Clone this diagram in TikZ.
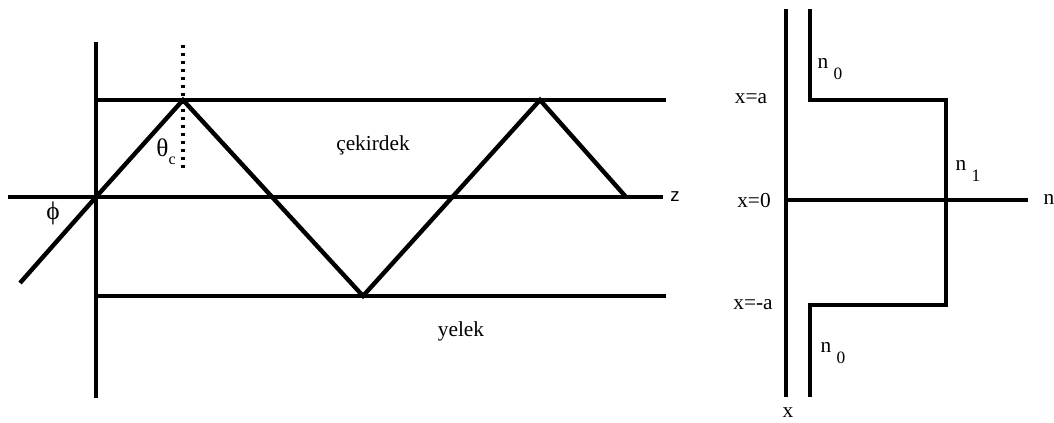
\documentclass[tikz,border=0pt]{standalone}
\usepackage{fontspec}
\setmainfont{Liberation Serif}
\newfontfamily\axisfont{Liberation Sans}
\usetikzlibrary{calc}
\newcommand{\Nsub}[1]{n\hspace{4pt}\raisebox{-8pt}{\fontsize{13}{14}\selectfont #1}}

\begin{document}
\begin{tikzpicture}[x=0.75pt, y=-0.75pt]

\tikzset{
  wall/.style={
    line width=3.3pt,
    line cap=butt,
    line join=miter
  },
  normal/.style={
    line width=2.4pt,
    dash pattern=on 2.6pt off 3.4pt
  },
  lbl/.style={
    inner sep=0pt,
    font=\fontsize{16}{18}\selectfont
  },
  greek/.style={
    inner sep=0pt,
    font=\fontsize{19}{21}\selectfont
  }
}

\useasboundingbox (0,0) rectangle (1054,423);

% Left: slab guide with zig-zag ray
\coordinate (ax-top) at (96,42);
\coordinate (ax-bot) at (96,398);
\coordinate (z-left) at (8,197);
\coordinate (z-right) at (663,197);
\coordinate (core-l) at (96,100);
\coordinate (core-r) at (666,100);
\coordinate (clad-l) at (96,296);
\coordinate (clad-r) at (666,296);

\coordinate (r0) at (20,283);
\coordinate (r1) at (96,197);
\coordinate (r2) at (183,100);
\coordinate (r3) at (363,296);
\coordinate (r4) at (540,100);
\coordinate (r5) at (626,197);

\coordinate (nrm-top) at (183,45);
\coordinate (nrm-bot) at (183,171);

\draw[wall] (ax-top) -- (ax-bot);
\draw[wall] (z-left) -- (z-right);
\draw[wall] (core-l) -- (core-r);
\draw[wall] (clad-l) -- (clad-r);
\draw[wall] (r0) -- (r1) -- (r2) -- (r3) -- (r4) -- (r5);
\draw[normal] (nrm-top) -- (nrm-bot);

\node[greek] (theta) at (166,152) {θ\raisebox{-6pt}{\fontsize{12}{13}\selectfont c}};
\node[greek] (phi) at (53,213) {ϕ};
\node[lbl, anchor=west, font=\fontsize{14}{16}\selectfont] (z) at (670,197) {\axisfont z};
\node[lbl] (core) at (373,145) {çekirdek};
\node[lbl] (clad) at (461,331) {yelek};

% Right: step index profile
\coordinate (x-top) at (786,9);
\coordinate (x-bot) at (786,397);
\coordinate (n-axis) at (1028,200);
\coordinate (p-top) at (810,9);
\coordinate (p-a) at (810,100);
\coordinate (p-ar) at (946,100);
\coordinate (p-br) at (946,305);
\coordinate (p-b) at (810,305);
\coordinate (p-bot) at (810,397);

\draw[wall] (x-top) -- (x-bot);
\draw[wall] (x-top |- n-axis) -- (n-axis);
\draw[wall] (p-top) -- (p-a) -- (p-ar) -- (p-br) -- (p-b) -- (p-bot);

\node[lbl] (xa) at (751,99) {x=a};
\node[lbl] (x0) at (754,201) {x=0};
\node[lbl] (xma) at (753,305) {x=-a};
\node[lbl] (xlab) at (788,413) {x};
\node[lbl] (nlab) at (1049,199) {n};
\node[lbl] (n0top) at (830,69) {\Nsub{0}};
\node[lbl] (n1) at (968,171) {\Nsub{1}};
\node[lbl] (n0bot) at (833,353) {\Nsub{0}};

\end{tikzpicture}
\end{document}
